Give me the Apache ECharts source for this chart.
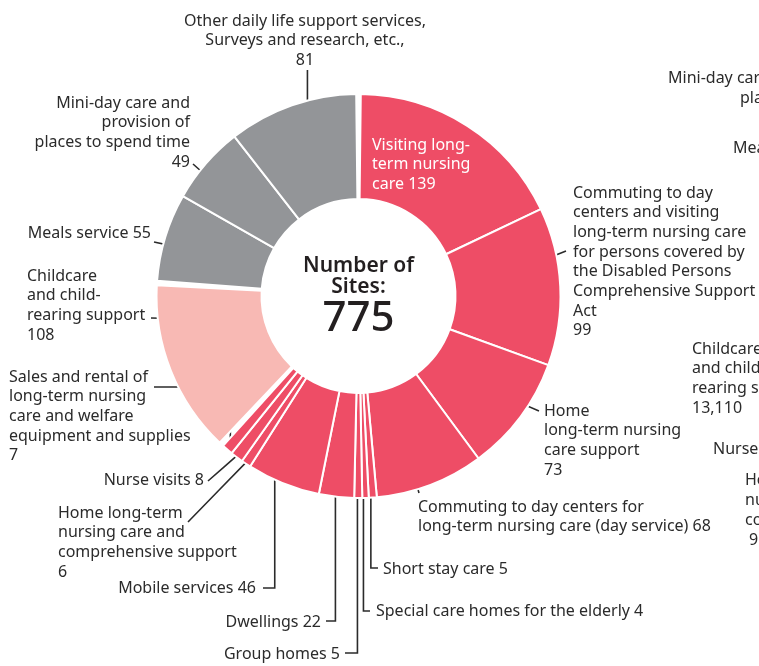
<!DOCTYPE html>
<html>
<head>
<meta charset="utf-8">
<script src="https://cdn.jsdelivr.net/npm/echarts@6/dist/echarts.min.js"></script>
<style>
  html, body { margin: 0; padding: 0; background: #fff; }
  #chart { width: 759px; height: 666px; }
</style>
</head>
<body>
<div id="chart"></div>
<script>
// ---- data ----
var redNames = [
  "Visiting long-term nursing care",
  "Commuting to day centers and visiting long-term nursing care (Disabled Persons Act)",
  "Home long-term nursing care support",
  "Commuting to day centers (day service)",
  "Short stay care",
  "Special care homes for the elderly",
  "Group homes",
  "Dwellings",
  "Mobile services",
  "Home long-term nursing care and comprehensive support",
  "Nurse visits",
  "Sales and rental of equipment and supplies"
];
var redValues = [139, 99, 73, 68, 5, 4, 5, 22, 46, 6, 8, 7];
var redLabels = [
  "Visiting long-\nterm nursing\ncare {c}",
  "Commuting to day\ncenters and visiting\nlong-term nursing care\nfor persons covered by\nthe Disabled Persons\nComprehensive Support\nAct\n{c}",
  "Home\nlong-term nursing\ncare support\n{c}",
  "Commuting to day centers for\nlong-term nursing care (day service) {c}",
  "Short stay care {c}",
  "Special care homes for the elderly {c}",
  "Group homes {c}",
  "Dwellings {c}",
  "Mobile services {c}",
  "Home long-term\nnursing care and\ncomprehensive support\n{c}",
  "Nurse visits {c}",
  "Sales and rental of\nlong-term nursing\ncare and welfare\nequipment and supplies\n{c}"
];
var pinkNames = ["Childcare and child-rearing support"];
var pinkValues = [108];
var pinkLabels = ["Childcare\nand child-\nrearing support\n{c}"];
var grayNames = ["Meals service", "Mini-day care and provision of places to spend time", "Other daily life support services, Surveys and research, etc."];
var grayValues = [55, 49, 81];
var grayLabels = ["Meals service {c}", "Mini-day care and\nprovision of\nplaces to spend time\n{c}", "Other daily life support services,\nSurveys and research, etc.,\n{c}"];

// ---- layout ----
var cx = 358.5, cy = 296;
var gapDeg = 1.3;
var font = "Noto Sans";
var textColor = "#2b2b2b";
var lh = 19.7;

// label positions: x, first-line centre y, align, leader (start radius, fraction along slice, end point, elbow)
var labelPos = {};
labelPos[redNames[0]] = { x: 372, y: 145, align: "left", color: "#fff" };
labelPos[redNames[1]] = { x: 573, y: 193, align: "left", r: 154, f: 0.37, end: [566, 251] };
labelPos[redNames[2]] = { x: 544, y: 411, align: "left", r: 154, f: 0.48, end: [539, 411] };
labelPos[redNames[3]] = { x: 418, y: 507, align: "left", r: 166, f: 0.61, end: [419, 493] };
labelPos[redNames[4]] = { x: 383, y: 569, align: "left", r: 197, f: 0.7, end: [378, 568], elbow: true };
labelPos[redNames[5]] = { x: 376, y: 611, align: "left", r: 197, f: 0.8, end: [370, 611], elbow: true };
labelPos[redNames[6]] = { x: 340, y: 654, align: "right", r: 197, f: 0.6, end: [345, 653], elbow: true };
labelPos[redNames[7]] = { x: 321, y: 622, align: "right", r: 187, f: 0.58, end: [326, 621], elbow: true };
labelPos[redNames[8]] = { x: 256, y: 588, align: "right", r: 182, f: 0.76, end: [263, 588], elbow: true };
labelPos[redNames[9]] = { x: 58, y: 513, align: "left", r: 197, f: 0.5, end: [188, 522] };
labelPos[redNames[10]] = { x: 204, y: 480, align: "right", r: 197, f: 0.5, end: [208, 481] };
labelPos[redNames[11]] = { x: 9, y: 377, align: "left", r: 196, f: 0.6, end: [154, 387], elbow: true };
labelPos[pinkNames[0]] = { x: 27, y: 276, align: "left", r: 169, f: 0.78, end: [151, 318] };
labelPos[grayNames[0]] = { x: 151, y: 233, align: "right", r: 158, f: 0.45, end: [154, 242] };
labelPos[grayNames[1]] = { x: 190, y: 103, align: "right", r: 174, f: 0.37, end: [193, 164] };
labelPos[grayNames[2]] = { x: 305, y: 21, align: "center", r: 164, f: 0.53, end: [null, 70], elbow: true };

function sum(a) { return a.reduce(function (s, v) { return s + v; }, 0); }
var total = sum(redValues) + sum(pinkValues) + sum(grayValues);
var degPerUnit = (360 - 3 * gapDeg) / total;

var groups = [
  { names: redNames, values: redValues, labels: redLabels, color: "#ee4d66" },
  { names: pinkNames, values: pinkValues, labels: pinkLabels, color: "#f8b9b4" },
  { names: grayNames, values: grayValues, labels: grayLabels, color: "#939598" }
];
// compass start (clockwise from 12 o'clock) of each group
var pos = gapDeg / 2;
groups.forEach(function (g) {
  g.start = pos;
  g.end = pos + sum(g.values) * degPerUnit;
  pos = g.end + gapDeg;
});

function sliceAngle(g, idx, f) {
  var before = 0;
  for (var i = 0; i < idx; i++) before += g.values[i];
  return g.start + (before + f * g.values[idx]) * degPerUnit;
}

function makeLayout(g) {
  return function (p) {
    var lp = labelPos[g.names[p.dataIndex]];
    var out = { x: lp.x, y: lp.y - lh / 2, align: lp.align, verticalAlign: "top" };
    if (lp.end) {
      var a = sliceAngle(g, p.dataIndex, lp.f) * Math.PI / 180;
      var sx = cx + lp.r * Math.sin(a), sy = cy - lp.r * Math.cos(a);
      var ex = lp.end[0] == null ? sx : lp.end[0], ey = lp.end[1];
      out.labelLinePoints = lp.elbow
        ? [[sx, sy], [sx, ey], [ex, ey]]
        : [[sx, sy], [(sx + ex) / 2, (sy + ey) / 2], [ex, ey]];
    }
    return out;
  };
}

var series = groups.map(function (g) {
  return {
    type: "pie",
    center: [cx, cy],
    radius: [97, 202],
    clockwise: true,
    startAngle: 90 - g.start,
    endAngle: 90 - g.end,
    avoidLabelOverlap: false,
    silent: true,
    emphasis: { disabled: true },
    itemStyle: { color: g.color, borderColor: "#fff", borderWidth: 2 },
    label: {
      show: true, position: "outside", fontFamily: font, fontSize: 16,
      lineHeight: lh, color: textColor, width: 420, overflow: "none"
    },
    labelLine: { show: true, showAbove: true, lineStyle: { color: textColor, width: 1.6 } },
    labelLayout: makeLayout(g),
    data: g.values.map(function (v, i) {
      var lp = labelPos[g.names[i]];
      var item = { name: g.names[i], value: v, label: { formatter: g.labels[i] } };
      if (lp.color) { item.label.color = lp.color; item.labelLine = { show: false }; }
      return item;
    })
  };
});

// partially visible labels of the neighbouring chart at the right edge
var sideTexts = [
  ["Mini-day care and provision of", 668, 78],
  ["places to spend time", 740, 98],
  ["Meals service", 733, 148],
  ["Childcare", 692, 349],
  ["and child-", 692, 368],
  ["rearing support", 692, 388],
  ["13,110", 692, 408],
  ["Nurse visits", 713, 449],
  ["Home long-term", 745, 480],
  ["nursing care and", 745, 500],
  ["comprehensive", 745, 520],
  ["99", 749, 540]
];

var graphic = sideTexts.map(function (t) {
  return { type: "text", x: t[1], y: t[2], silent: true,
    style: { text: t[0], font: "16px '" + font + "'", fill: textColor, textAlign: "left", textVerticalAlign: "middle" } };
});
graphic.push(
  { type: "text", x: cx, y: 266, silent: true, style: { text: "Number of", font: "600 21px '" + font + "'", fill: "#231f20", textAlign: "center", textVerticalAlign: "middle" } },
  { type: "text", x: cx, y: 287, silent: true, style: { text: "Sites:", font: "600 21px '" + font + "'", fill: "#231f20", textAlign: "center", textVerticalAlign: "middle" } },
  { type: "text", x: cx, y: 319, silent: true, style: { text: String(total), font: "500 42px '" + font + "'", fill: "#231f20", textAlign: "center", textVerticalAlign: "middle" } }
);

var chart = echarts.init(document.getElementById("chart"), null, { renderer: "canvas" });
chart.setOption({
  animation: false,
  backgroundColor: "#fff",
  series: series,
  graphic: graphic
});
</script>
</body>
</html>
